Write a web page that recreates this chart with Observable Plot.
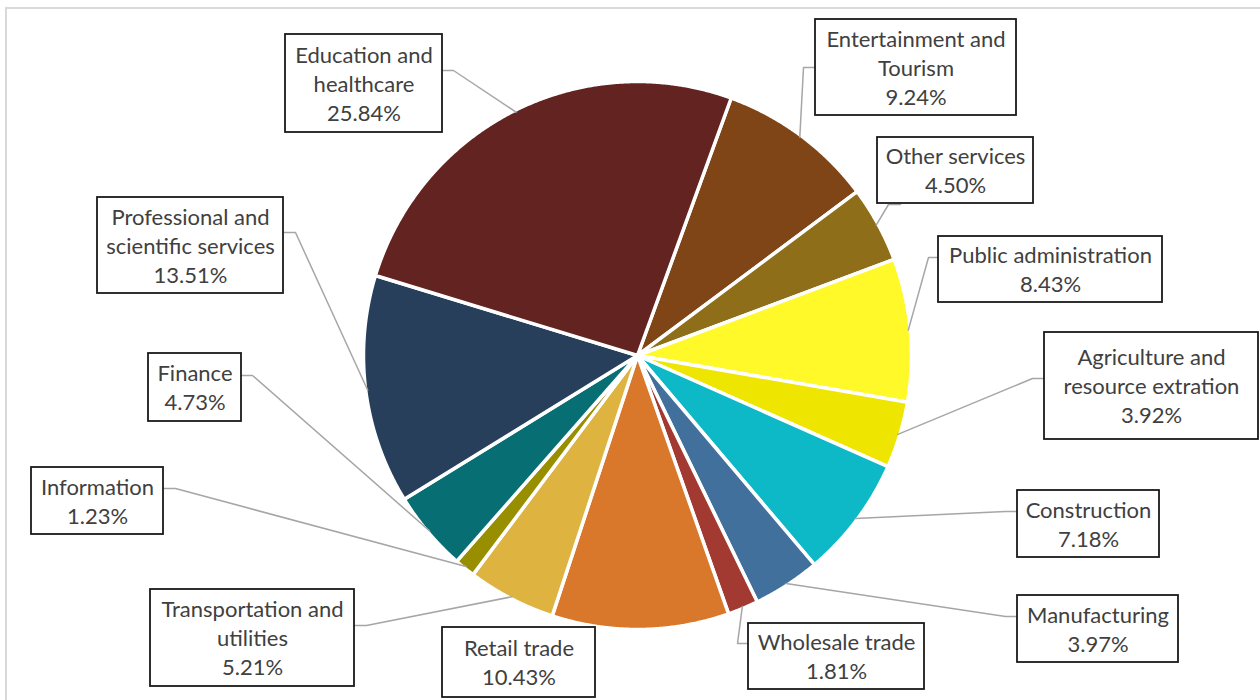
<!DOCTYPE html>
<html>
<head>
<meta charset="utf-8">
<script src="https://cdn.jsdelivr.net/npm/d3@7"></script>
<script src="https://cdn.jsdelivr.net/npm/@observablehq/plot@0.6"></script>
<style>
  html, body { margin: 0; padding: 0; background: #fff; overflow: hidden; }
  #chart svg { display: block; }
</style>
</head>
<body>
<div id="chart"></div>
<script>
// ---- Data (clockwise from the top-right slice) ----
const categories = [
  "Entertainment and Tourism", "Other services", "Public administration",
  "Agriculture and resource extration", "Construction", "Manufacturing",
  "Wholesale trade", "Retail trade", "Transportation and utilities",
  "Information", "Finance", "Professional and scientific services",
  "Education and healthcare"
];
const shares = [9.24, 4.50, 8.43, 3.92, 7.18, 3.97, 1.81, 10.43, 5.21, 1.23, 4.73, 13.51, 25.84];
const labelLines = [
  "Entertainment and\nTourism", "Other services", "Public administration",
  "Agriculture and\nresource extration", "Construction", "Manufacturing",
  "Wholesale trade", "Retail trade", "Transportation and\nutilities",
  "Information", "Finance", "Professional and\nscientific services",
  "Education and\nhealthcare"
];
const colors = [
  "#7f4516", "#8f6e19", "#fff92a", "#eee600", "#0db9c7", "#42709c",
  "#a23a32", "#d9782b", "#dfb340", "#978f00", "#076f74", "#283f5b", "#622321"
];

// ---- Layout (pixels) ----
const W = 1260, H = 700, CX = 637, CY = 355, R = 274, START = 20;
// label boxes: [x1, y1, x2, y2, anchorX, anchorY, elbowX, elbowY]
const boxes = [
  [815, 19, 1016, 115, 815, 67, 803, 67],
  [877, 137, 1033, 203, 900, 204, 888, 204],
  [938, 236, 1162, 302, 938, 257, 928, 257],
  [1044, 332, 1258, 439, 1044, 378, 1032, 378],
  [1017, 490, 1159, 557, 1017, 511, 1005, 511],
  [1017, 595, 1178, 662, 1017, 616, 1005, 616],
  [748, 623, 924, 689, 748, 643, 737, 643],
  [442, 627, 595, 697, null, null, null, null],
  [150, 589, 354, 686, 354, 625, 366, 625],
  [31, 467, 163, 534, 163, 488, 175, 488],
  [148, 353, 241, 421, 241, 375, 252, 375],
  [97, 197, 283, 293, 283, 232, 295, 232],
  [285, 34, 442, 132, 442, 70, 453, 70]
];

const total = d3.sum(shares);
const rad = d => d * Math.PI / 180;
const pt = (deg, r) => [CX + r * Math.sin(rad(deg)), CY - r * Math.cos(rad(deg))];

let acc = 0;
const slices = shares.map((v, i) => {
  const a0 = START + acc / total * 360;
  acc += v;
  const a1 = START + acc / total * 360;
  return {name: categories[i], value: v, a0, a1, mid: (a0 + a1) / 2};
});

const slicePts = slices.flatMap(s => {
  const pts = [{name: s.name, x: CX, y: CY}];
  for (let a = s.a0; a < s.a1; a += 0.25) {
    const [x, y] = pt(a, R);
    pts.push({name: s.name, x, y});
  }
  const [xe, ye] = pt(s.a1, R);
  pts.push({name: s.name, x: xe, y: ye});
  pts.push({name: s.name, x: CX, y: CY});
  return pts;
});

const leaderPts = slices.flatMap((s, i) => {
  const b = boxes[i];
  if (b[4] == null) return [];
  const [mx, my] = pt(s.mid, R - 2);
  return [
    {k: i, x: b[4], y: b[5]},
    {k: i, x: b[6], y: b[7]},
    {k: i, x: mx, y: my}
  ];
});

const labels = slices.map((s, i) => ({
  text: labelLines[i] + "\n" + s.value.toFixed(2) + "%",
  x1: boxes[i][0], y1: boxes[i][1], x2: boxes[i][2], y2: boxes[i][3]
}));

const chart = Plot.plot({
  width: W, height: H, margin: 0,
  style: {background: "#fff", overflow: "hidden"},
  x: {domain: [0, W], range: [0, W], axis: null},
  y: {domain: [0, H], range: [0, H], axis: null},
  color: {domain: categories, range: colors},
  marks: [
    Plot.rect([0], {x1: () => 6, y1: () => 8, x2: () => W + 10, y2: () => H + 10,
      fill: "none", stroke: "#d9d9d9", strokeWidth: 2}),
    Plot.line(slicePts, {x: "x", y: "y", z: "name", fill: "name",
      stroke: "#fff", strokeWidth: 3.5, strokeLinejoin: "round"}),
    Plot.line(leaderPts, {x: "x", y: "y", z: "k", stroke: "#a6a6a6", strokeWidth: 1.5}),
    Plot.rect(labels, {x1: "x1", y1: "y1", x2: "x2", y2: "y2",
      fill: "#fff", stroke: "#1a1a1a", strokeWidth: 1.8}),
    Plot.text(labels, {x: d => (d.x1 + d.x2) / 2, y: d => (d.y1 + d.y2) / 2 - 1,
      text: "text", fontSize: 22, lineHeight: 1.32, fill: "#404040",
      fontFamily: "Lato, 'Open Sans', sans-serif"})
  ]
});
document.getElementById("chart").append(chart);
</script>
</body>
</html>
